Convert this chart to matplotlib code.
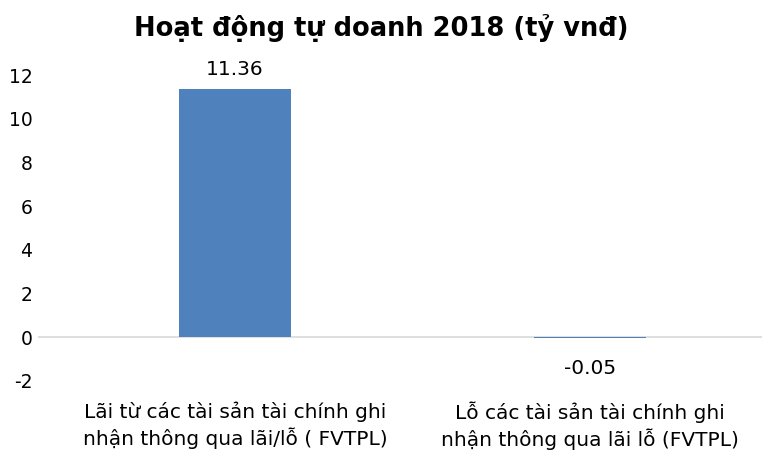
import matplotlib.pyplot as plt

categories = ["Lãi từ các tài sản tài chính ghi\nnhận thông qua lãi/lỗ ( FVTPL)",
              "Lỗ các tài sản tài chính ghi\nnhận thông qua lãi lỗ (FVTPL)"]
values = [11.36, -0.05]
value_labels = ["11.36", "-0.05"]

plt.rcParams["font.family"] = ["DejaVu Sans"]
plt.rcParams["axes.unicode_minus"] = False

fig = plt.figure(figsize=(7.62, 4.55), dpi=100)
ax = fig.add_axes([0.05, 0.163, 0.95, 0.672])

x = list(range(len(categories)))
ax.bar(x, values, width=0.315, color="#4F81BD", linewidth=0, zorder=2)
ax.axhline(0, color="#D9D9D9", linewidth=1.2, zorder=1)

# value labels: above positive bar, below negative bar
for xi, v, lab in zip(x, values, value_labels):
    if v >= 0:
        ax.annotate(lab, (xi, v), xytext=(0, 7), textcoords="offset points",
                    ha="center", va="bottom", fontsize=14.5)
    else:
        ax.annotate(lab, (xi, v), xytext=(0, -15), textcoords="offset points",
                    ha="center", va="top", fontsize=14.5)

ax.set_xlim(-0.555, 1.485)
ax.set_ylim(-2, 12)
ax.set_yticks(range(-2, 13, 2))
ax.set_xticks(x)
ax.set_xticklabels(categories, fontsize=14.5, linespacing=1.3)
ax.tick_params(axis="both", length=0)
ax.tick_params(axis="y", labelsize=13.5, pad=4)
ax.tick_params(axis="x", pad=15)
for s in ax.spines.values():
    s.set_visible(False)

fig.suptitle("Hoạt động tự doanh 2018 (tỷ vnđ)", fontsize=18.5, fontweight="bold", y=0.97)

fig.savefig("out.png", dpi=100)
